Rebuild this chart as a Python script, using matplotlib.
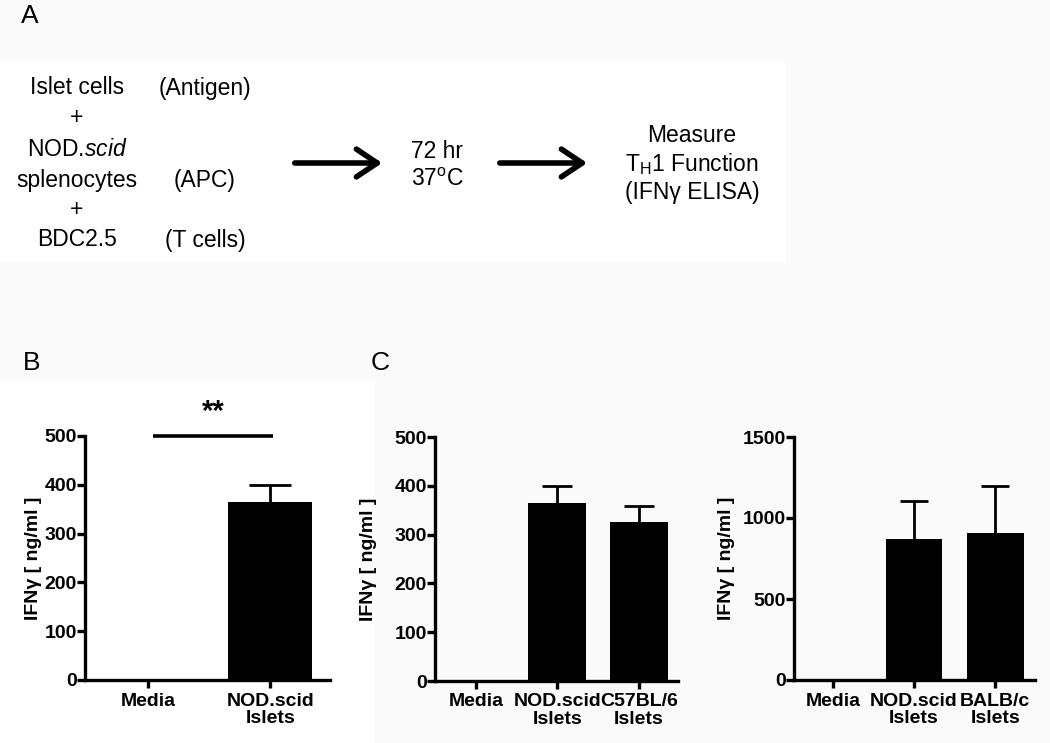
import numpy as np
import matplotlib
matplotlib.use("Agg")
import matplotlib.pyplot as plt
from matplotlib.patches import Rectangle, FancyArrowPatch

plt.rcParams['font.family'] = ['Liberation Sans', 'DejaVu Sans']
plt.rcParams['mathtext.fontset'] = 'custom'
plt.rcParams['mathtext.rm'] = 'Liberation Sans'
plt.rcParams['mathtext.it'] = 'Liberation Sans:italic'
plt.rcParams['mathtext.bf'] = 'Liberation Sans:bold'

# ---------------- data ----------------
b_labels = ['Media', 'NOD.scid\nIslets']
b_vals = [2, 365]
b_err = [0, 35]
b_sig = '**'

c1_labels = ['Media', 'NOD.scid\nIslets', 'C57BL/6\nIslets']
c1_vals = [2, 365, 325]
c1_err = [0, 35, 33]

c2_labels = ['Media', 'NOD.scid\nIslets', 'BALB/c\nIslets']
c2_vals = [5, 870, 907]
c2_err = [0, 235, 288]

ylab = 'IFNγ [ ng/ml ]'

W, H = 1050, 743
fig = plt.figure(figsize=(W / 100, H / 100), dpi=100)
fig.patch.set_facecolor('#fafafa')


def px(x, y):
    return x / W, 1 - y / H


# white areas behind the diagram and panel B
for x0, y0, w, h in [(0, 263, 785, 200), (0, 743, 375, 361)]:
    fig.add_artist(Rectangle(px(x0, y0), w / W, h / H, transform=fig.transFigure,
                             facecolor='white', edgecolor='none', zorder=-10))

# ---------------- panel A: diagram ----------------
fs = 16.5
fig.text(*px(30, 16), 'A', fontsize=19, ha='center', va='center')
left = [('Islet cells', 88), ('+', 118), ('NOD.$\\mathit{scid}$', 150),
        ('splenocytes', 180), ('+', 210), ('BDC2.5', 240)]
for s, y in left:
    fig.text(*px(77, y), s, fontsize=fs, ha='center', va='center')
for s, y in [('(Antigen)', 88), ('(APC)', 180), ('(T cells)', 240)]:
    fig.text(*px(205, y), s, fontsize=fs, ha='center', va='center')
fig.text(*px(437, 151), '72 hr', fontsize=fs, ha='center', va='center')
fig.text(*px(437, 180), '37$^{\\mathregular{o}}$C', fontsize=fs, ha='center', va='center')
fig.text(*px(692, 135), 'Measure', fontsize=fs, ha='center', va='center')
fig.text(*px(692, 164), 'T$_{\\mathregular{H}}$1 Function', fontsize=fs, ha='center', va='center')
fig.text(*px(692, 193), '(IFNγ ELISA)', fontsize=fs, ha='center', va='center')
for x0, x1 in [(292, 385), (497, 590)]:
    fig.add_artist(FancyArrowPatch(
        px(x0, 163), px(x1, 163), transform=fig.transFigure,
        arrowstyle='->,head_length=0.75,head_width=0.5', lw=4, color='black',
        mutation_scale=20))

fig.text(*px(32, 363), 'B', fontsize=19, ha='center', va='center')
fig.text(*px(380, 363), 'C', fontsize=19, ha='center', va='center')


# ---------------- bar panels ----------------
def bar_panel(x_left, x_right, y_bottom, y_top, labels, vals, errs, ymax, yticks,
              xlim, width, capsize, label_x):
    ax = fig.add_axes([x_left / W, 1 - y_bottom / H, (x_right - x_left) / W,
                       (y_bottom - y_top) / H])
    ax.set_facecolor('none')
    x = np.arange(len(vals))
    ax.bar(x, vals, width=width, color='black', zorder=2)
    eb = ax.errorbar(x[1:], vals[1:], yerr=[np.zeros(len(vals) - 1), errs[1:]], fmt='none',
                     ecolor='black', elinewidth=2, capsize=capsize, capthick=2, zorder=1)
    eb[1][0].set_visible(False)  # upper error only
    ax.set_xlim(*xlim)
    ax.set_ylim(0, ymax)
    ax.set_yticks(yticks)
    ax.set_xticks(x)
    ax.set_xticklabels(labels, fontsize=14, fontweight='bold', linespacing=1.05)
    ax.tick_params(axis='y', labelsize=14, width=2.4, length=6, pad=0)
    ax.tick_params(axis='x', width=2.4, length=6, pad=3)
    for t in ax.get_yticklabels():
        t.set_fontweight('bold')
    for s in ['top', 'right']:
        ax.spines[s].set_visible(False)
    for s in ['left', 'bottom']:
        ax.spines[s].set_linewidth(2.4)
    ax.set_ylabel(ylab, fontsize=14, fontweight='bold')
    ax.yaxis.set_label_coords(label_x, 0.5)
    return ax


axb = bar_panel(85, 330, 680, 436, b_labels, b_vals, b_err, 500,
                [0, 100, 200, 300, 400, 500], (-0.516, 1.49), 0.69, 15, -0.175)
axb.plot([0.04, 1.02], [500, 500], color='black', lw=2.6, clip_on=False, solid_capstyle='butt')
axb.text(0.53, 550, b_sig, fontsize=21, fontweight='bold', ha='center', va='center')

bar_panel(435, 678, 681, 437, c1_labels, c1_vals, c1_err, 500,
          [0, 100, 200, 300, 400, 500], (-0.5, 2.48), 0.71, 10.5, -0.24)
bar_panel(794, 1035, 680, 437, c2_labels, c2_vals, c2_err, 1500,
          [0, 500, 1000, 1500], (-0.48, 2.49), 0.70, 10, -0.245)

fig.savefig('out.png', dpi=100, facecolor=fig.get_facecolor())
